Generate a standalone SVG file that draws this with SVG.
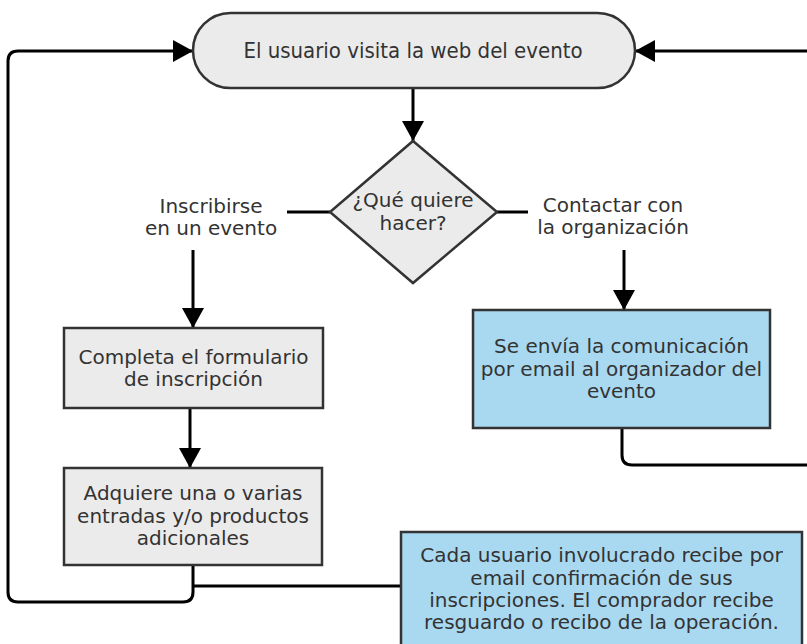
<svg xmlns="http://www.w3.org/2000/svg" width="807" height="644" viewBox="0 0 807 644">
<style>
.txt{font-family:"DejaVu Sans",Verdana,sans-serif;font-size:20px;fill:#333;text-anchor:middle}
.big{font-family:"DejaVu Sans Condensed","DejaVu Sans",sans-serif;font-size:22px;fill:#333;text-anchor:middle}
.gray{fill:#ebebeb;stroke:#333;stroke-width:2.5}
.blue{fill:#a9d9f1;stroke:#333;stroke-width:2.5}
.con{fill:none;stroke:#000;stroke-width:3}
</style>
<defs>
<marker id="ah" markerUnits="userSpaceOnUse" markerWidth="22" markerHeight="22" viewBox="0 0 20 22" refX="20" refY="11" orient="auto">
<path d="M0,0 L20,11 L0,22 z" fill="#000"/>
</marker>
</defs>
<g id="connectors">
<path class="con" d="M193,565 V592 Q193,602 183,602 H18 Q8,602 8,592 V61 Q8,51 18,51 H193" marker-end="url(#ah)"/>
<path class="con" d="M193,586 H401"/>
<path class="con" d="M622,428 V455 Q622,465 632,465 H815"/>
<path class="con" d="M815,51 H635" marker-end="url(#ah)"/>
<path class="con" d="M413,88 V141" marker-end="url(#ah)"/>
<path class="con" d="M330,212 H287"/>
<path class="con" d="M193,250 V328" marker-end="url(#ah)"/>
<path class="con" d="M497,212 H528"/>
<path class="con" d="M624,250 V310" marker-end="url(#ah)"/>
<path class="con" d="M190,408 V468" marker-end="url(#ah)"/>
</g>
<g id="start">
<rect class="gray" x="193" y="13" width="442" height="75" rx="37.5" ry="37.5"/>
<text class="big" x="413" y="58">El usuario visita la web del evento</text>
</g>
<g id="decision">
<polygon class="gray" points="413,141 497,212 413,283 330,212"/>
<text class="txt" x="413" y="207">¿Qué quiere</text>
<text class="txt" x="413" y="230">hacer?</text>
</g>
<g id="label-inscribirse">
<text class="txt" x="211" y="213">Inscribirse</text>
<text class="txt" x="211" y="235">en un evento</text>
</g>
<g id="label-contactar">
<text class="txt" x="613" y="212">Contactar con</text>
<text class="txt" x="613" y="234">la organización</text>
</g>
<g id="formulario">
<rect class="gray" x="64" y="328" width="259" height="80"/>
<text class="txt" x="193.5" y="364">Completa el formulario</text>
<text class="txt" x="193.5" y="386">de inscripción</text>
</g>
<g id="adquiere">
<rect class="gray" x="64" y="468" width="258" height="97"/>
<text class="txt" x="193" y="500">Adquiere una o varias</text>
<text class="txt" x="193" y="523">entradas y/o productos</text>
<text class="txt" x="193" y="545">adicionales</text>
</g>
<g id="comunicacion">
<rect class="blue" x="473" y="310" width="297" height="118"/>
<text class="txt" x="621.5" y="353">Se envía la comunicación</text>
<text class="txt" x="621.5" y="376">por email al organizador del</text>
<text class="txt" x="621.5" y="398">evento</text>
</g>
<g id="confirmacion">
<rect class="blue" x="401" y="532" width="401" height="130"/>
<text class="txt" x="601.5" y="562">Cada usuario involucrado recibe por</text>
<text class="txt" x="601.5" y="585">email confirmación de sus</text>
<text class="txt" x="601.5" y="607">inscripciones. El comprador recibe</text>
<text class="txt" x="601.5" y="629">resguardo o recibo de la operación.</text>
</g>
</svg>
